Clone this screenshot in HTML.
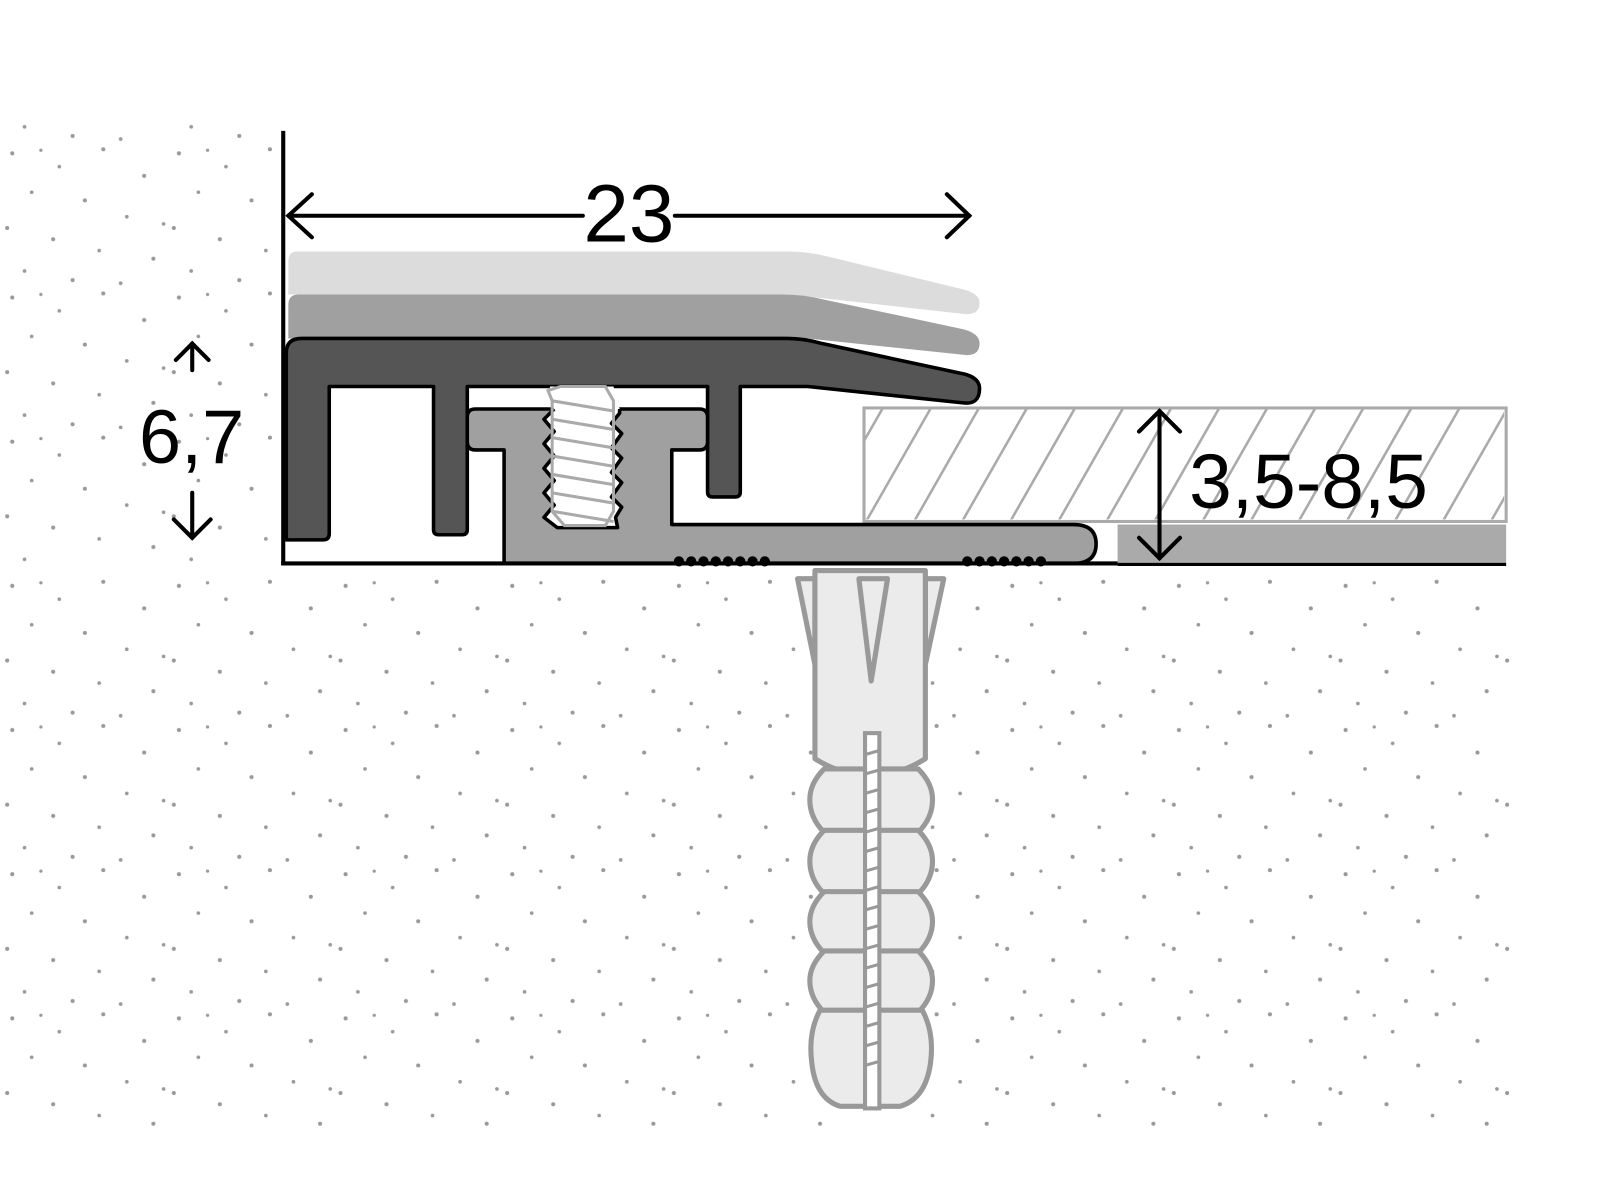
<!DOCTYPE html>
<html><head><meta charset="utf-8"><style>html,body{margin:0;padding:0;background:#fff}svg{display:block}</style></head>
<body>
<svg width="1600" height="1200" viewBox="0 0 1600 1200" xmlns="http://www.w3.org/2000/svg">
<defs>
<pattern id="dp" width="163" height="141" patternUnits="userSpaceOnUse">
<g fill="#999">
<circle cx="12" cy="9" r="2"/><circle cx="58" cy="22" r="1.8"/><circle cx="101" cy="5" r="2"/><circle cx="141" cy="31" r="2"/>
<circle cx="31" cy="47" r="1.8"/><circle cx="83" cy="55" r="2"/><circle cx="124" cy="71" r="1.8"/><circle cx="7" cy="82" r="2"/>
<circle cx="52" cy="93" r="2"/><circle cx="97" cy="104" r="1.8"/><circle cx="150" cy="112" r="2"/><circle cx="24" cy="124" r="1.8"/>
<circle cx="71" cy="133" r="2"/><circle cx="118" cy="136" r="1.8"/><circle cx="160" cy="78" r="1.8"/><circle cx="40" cy="6" r="1.6"/>
</g>
</pattern>
<clipPath id="hc"><rect x="846" y="400" width="625" height="108"/></clipPath>
</defs>
<g transform="scale(1.0225)">
<rect x="0" y="120" width="268" height="430" fill="url(#dp)"/>
<rect x="0" y="566" width="1476" height="540" fill="url(#dp)"/>
<rect x="845" y="399" width="628" height="111" fill="#fff" stroke="#aaa" stroke-width="3"/>
<g clip-path="url(#hc)" stroke="#aaa" stroke-width="2.5">
<line x1="800" y1="510" x2="864" y2="398"/><line x1="847" y1="510" x2="911" y2="398"/>
<line x1="894" y1="510" x2="958" y2="398"/><line x1="941" y1="510" x2="1005" y2="398"/>
<line x1="988" y1="510" x2="1052" y2="398"/><line x1="1035" y1="510" x2="1099" y2="398"/>
<line x1="1082" y1="510" x2="1146" y2="398"/><line x1="1129" y1="510" x2="1193" y2="398"/>
<line x1="1176" y1="510" x2="1240" y2="398"/><line x1="1223" y1="510" x2="1287" y2="398"/>
<line x1="1270" y1="510" x2="1334" y2="398"/><line x1="1317" y1="510" x2="1381" y2="398"/>
<line x1="1364" y1="510" x2="1428" y2="398"/><line x1="1411" y1="510" x2="1475" y2="398"/>
<line x1="1458" y1="510" x2="1522" y2="398"/>
</g>
<rect x="1093" y="513" width="380" height="38" fill="#aaa"/>
<path d="M290,246 L772,246 Q790,246 810,251 L942,283 Q958,287 958,296 Q958,309 942,307 L790,290 Q776,288 760,288 L282,288 L282,256 Q282,246 290,246 Z" fill="#dcdcdc"/>
<path d="M292,288 L766,288 Q786,288 806,293 L942,322 Q958,326 958,336 Q958,349 942,347 L790,331 L282,331 L282,298 Q282,288 292,288 Z" fill="#a0a0a0"/>
<path d="M280,345 Q280,331 295,331 L770,331 Q786,331 804,336 L944,366 Q958,370 958,380 Q958,396 942,394 L790,378 L724,378 L724,481 Q724,486 719,486 L697,486 Q692,486 692,481 L692,378 L457,378 L457,518 Q457,523 452,523 L429,523 Q424,523 424,518 L424,378 L322,378 L322,522 Q322,528 316,528 L280,528 Z" fill="#555" stroke="#000" stroke-width="3.5" stroke-linejoin="round"/>
<path d="M465,400 L684,400 Q692,400 692,408 L692,432 Q692,440 684,440 L657,440 L657,513 L1050,513 Q1072,513 1072,532 Q1072,551 1050,551 L493,551 L493,440 L465,440 Q457,440 457,432 L457,408 Q457,400 465,400 Z" fill="#a0a0a0" stroke="#000" stroke-width="3.5" stroke-linejoin="round"/>
<path d="M538,378 L600,378 L606,400 L606,404 L598,414 L608,424 L598,438 L608,448 L598,462 L608,472 L598,486 L608,496 L602,506 L604,516 L545,516 L532,506 L542,494 L532,482 L542,470 L532,458 L542,446 L532,434 L542,422 L532,410 L542,400 L536,388 Z" fill="#fff"/>
<path d="M606,400 L606,404 L598,414 L608,424 L598,438 L608,448 L598,462 L608,472 L598,486 L608,496 L602,506 L604,516 L545,516 L532,506 L542,494 L532,482 L542,470 L532,458 L542,446 L532,434 L542,422 L532,410 L542,400" fill="none" stroke="#000" stroke-width="3.5" stroke-linejoin="round"/>
<g stroke="#aaa" stroke-width="3" fill="none">
<path d="M536,382 L548,378 L592,378 L600,392 L600,500 L592,514 L552,514 L540,500 L540,392 Z"/>
<line x1="540" y1="392" x2="600" y2="402"/><line x1="540" y1="410" x2="600" y2="420"/>
<line x1="540" y1="428" x2="600" y2="438"/><line x1="540" y1="446" x2="600" y2="456"/>
<line x1="540" y1="464" x2="600" y2="474"/><line x1="540" y1="482" x2="600" y2="492"/>
<line x1="540" y1="500" x2="600" y2="510"/>
</g>
<g fill="#000">
<circle cx="664" cy="549" r="5"/><circle cx="676" cy="549" r="5"/><circle cx="688" cy="549" r="5"/><circle cx="700" cy="549" r="5"/>
<circle cx="712" cy="549" r="5"/><circle cx="724" cy="549" r="5"/><circle cx="736" cy="549" r="5"/><circle cx="748" cy="549" r="5"/>
<circle cx="946" cy="549" r="5"/><circle cx="958" cy="549" r="5"/><circle cx="970" cy="549" r="5"/><circle cx="982" cy="549" r="5"/>
<circle cx="994" cy="549" r="5"/><circle cx="1006" cy="549" r="5"/><circle cx="1018" cy="549" r="5"/>
</g>
<line x1="277" y1="128" x2="277" y2="553" stroke="#000" stroke-width="4"/>
<line x1="275" y1="551" x2="1093" y2="551" stroke="#000" stroke-width="4"/>
<line x1="1093" y1="552" x2="1473" y2="552" stroke="#000" stroke-width="3"/>
<rect x="770" y="556" width="160" height="10" fill="#fff"/>
<g fill="#ebebeb" stroke="#999" stroke-width="5" stroke-linejoin="round">
<path d="M780,566 L797,566 L797,650 Z"/>
<path d="M923,566 L905,566 L905,650 Z"/>
<path d="M797,558 L905,558 L905,742 Q880,758 852,758 Q822,758 797,742 Z"/>
<path d="M806,752 L898,752 Q912,766 912,782 Q912,800 898,814 L806,814 Q792,800 792,782 Q792,766 806,752 Z"/>
<path d="M806,812 L898,812 Q912,826 912,842 Q912,860 898,874 L806,874 Q792,860 792,842 Q792,826 806,812 Z"/>
<path d="M806,872 L898,872 Q912,886 912,901 Q912,918 898,932 L806,932 Q792,918 792,901 Q792,886 806,872 Z"/>
<path d="M806,930 L898,930 Q912,944 912,959 Q912,976 898,990 L806,990 Q792,976 792,959 Q792,944 806,930 Z"/>
<path d="M802,988 L902,988 Q914,1010 910,1040 Q905,1075 880,1082 L822,1082 Q798,1075 794,1040 Q790,1010 802,988 Z"/>
<path d="M840,566 L868,566 L852,666 Z"/>
</g>
<rect x="846" y="717" width="14" height="367" fill="#fff" stroke="#999" stroke-width="4"/>
<g stroke="#999" stroke-width="3">
<line x1="846" y1="738" x2="860" y2="734"/><line x1="846" y1="757" x2="860" y2="753"/><line x1="846" y1="776" x2="860" y2="772"/>
<line x1="846" y1="795" x2="860" y2="791"/><line x1="846" y1="814" x2="860" y2="810"/><line x1="846" y1="833" x2="860" y2="829"/>
<line x1="846" y1="852" x2="860" y2="848"/><line x1="846" y1="871" x2="860" y2="867"/><line x1="846" y1="890" x2="860" y2="886"/>
<line x1="846" y1="909" x2="860" y2="905"/><line x1="846" y1="928" x2="860" y2="924"/><line x1="846" y1="947" x2="860" y2="943"/>
<line x1="846" y1="966" x2="860" y2="962"/><line x1="846" y1="985" x2="860" y2="981"/><line x1="846" y1="1004" x2="860" y2="1000"/>
<line x1="846" y1="1023" x2="860" y2="1019"/><line x1="846" y1="1042" x2="860" y2="1038"/>
</g>
<g stroke="#000" stroke-width="4" fill="none" stroke-linecap="round">
<line x1="282" y1="211" x2="570" y2="211"/><line x1="660" y1="211" x2="948" y2="211"/>
<polyline points="305,190 282,211 305,232"/><polyline points="926,190 948,211 926,232"/>
<line x1="188" y1="336" x2="188" y2="362"/><polyline points="172,352 188,336 204,352"/>
<line x1="188" y1="482" x2="188" y2="526"/><polyline points="170,508 188,526 206,508"/>
<line x1="1134" y1="402" x2="1134" y2="546"/><polyline points="1114,422 1134,402 1154,422"/><polyline points="1114,526 1134,546 1154,526"/>
</g>
<g font-family="Liberation Sans, sans-serif" fill="#000">
<text x="615" y="236" font-size="80" text-anchor="middle">23</text>
<text x="136" y="453" font-size="74">6,7</text>
<text x="1163" y="497" font-size="75">3,5-8,5</text>
</g>
</g>
</svg>
</body></html>
